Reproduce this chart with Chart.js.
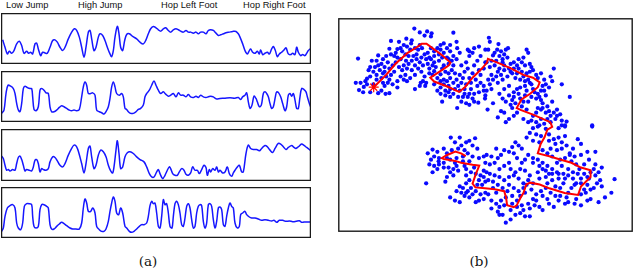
<!DOCTYPE html>
<html>
<head>
<meta charset="utf-8">
<script src="https://cdn.jsdelivr.net/npm/chart.js@4.4.0/dist/chart.umd.min.js"></script>
<style>
  body { margin: 0; width: 640px; height: 271px; background: #fff; position: relative; overflow: hidden; }
  canvas { position: absolute; }
  .label { position: absolute; top: 0; font: 9.3px/10px "Liberation Sans", Arial, sans-serif; color: #111; white-space: nowrap; }
  .caption { position: absolute; top: 253px; width: 40px; text-align: center; font: 13.5px/16px "DejaVu Serif", serif; color: #111; }
</style>
</head>
<body>
<div class="label" style="left:6px">Low Jump</div>
<div class="label" style="left:78px">High Jump</div>
<div class="label" style="left:161px">Hop Left Foot</div>
<div class="label" style="left:243px">Hop Right Foot</div>

<canvas id="signal-1" width="310" height="51" style="left:1px;top:13px"></canvas>
<canvas id="signal-2" width="310" height="51" style="left:1px;top:71px"></canvas>
<canvas id="signal-3" width="310" height="52" style="left:1px;top:129px"></canvas>
<canvas id="signal-4" width="310" height="51" style="left:1px;top:187px"></canvas>
<canvas id="embedding" width="307" height="226" style="left:332px;top:12px"></canvas>

<div class="caption" style="left:128px">(a)</div>
<div class="caption" style="left:459px">(b)</div>

<script>
// ---------------------------------------------------------------------------
// (a) four sensor signals over time: [time, value]
// time runs 3..933 across all four activities
// ---------------------------------------------------------------------------

const signal1 = [[8,72],[15,50],[22,30],[28,38],[35,32],[42,40],[50,60],[58,68],[65,55],[72,32],[80,38],[86,32],[92,35],[98,30],[105,60],[110,62],[115,45],[122,25],[128,35],[135,33],[142,32],[150,50],[158,70],[165,72],[172,65],[180,50],[188,40],[195,50],[205,75],[215,95],[223,105],[230,100],[238,80],[245,50],[252,20],[258,50],[265,95],[270,100],[275,75],[282,40],[288,50],[295,80],[300,90],[308,85],[315,70],[322,50],[330,30],[335,22],[340,40],[345,80],[352,112],[357,90],[362,50],[368,40],[374,70],[380,88],[388,90],[398,82],[410,75],[420,65],[430,60],[438,72],[445,90],[452,105],[460,112],[468,108],[475,102],[482,98],[490,105],[497,108],[505,100],[512,95],[520,102],[528,105],[535,102],[542,98],[550,95],[558,100],[565,95],[572,95],[580,92],[588,95],[595,90],[602,95],[610,95],[618,90],[625,100],[632,102],[640,100],[648,92],[655,85],[662,87],[670,90],[678,93],[688,95],[698,97],[708,97],[715,90],[720,80],[728,60],[735,40],[742,30],[748,40],[752,45],[758,35],[765,32],[772,38],[778,30],[782,42],[788,28],[795,32],[802,35],[808,30],[815,45],[820,52],[826,40],[832,22],[838,30],[845,35],[852,42],[858,48],[865,30],[872,28],[878,32],[885,28],[890,50],[895,35],[902,25],[908,28],[915,25],[920,32],[925,40],[930,45]];

const signal2 = [[5,26],[12,36],[18,86],[24,111],[32,108],[40,101],[45,86],[50,56],[55,36],[60,31],[65,56],[70,101],[75,108],[82,104],[90,101],[95,101],[98,76],[102,38],[108,34],[115,46],[120,96],[125,101],[132,96],[138,88],[145,86],[150,46],[155,31],[162,31],[170,36],[178,44],[185,49],[192,46],[200,41],[208,36],[215,34],[222,36],[230,34],[238,38],[245,76],[250,106],[255,121],[260,111],[265,86],[272,86],[278,88],[285,81],[290,36],[298,31],[305,28],[312,24],[318,31],[325,46],[330,71],[335,106],[340,121],[345,106],[350,86],[358,81],[365,86],[370,76],[375,41],[380,38],[385,31],[392,26],[400,26],[408,31],[415,38],[422,41],[430,51],[435,76],[440,86],[448,96],[455,111],[462,124],[468,111],[475,96],[482,86],[490,91],[497,84],[505,78],[512,81],[520,86],[528,76],[535,88],[542,81],[550,81],[558,76],[565,83],[572,76],[580,74],[588,78],[595,74],[602,81],[610,76],[618,74],[625,76],[632,78],[640,76],[648,70],[660,71],[675,72],[690,73],[705,72],[715,74],[722,68],[728,76],[735,81],[740,88],[745,61],[750,41],[756,51],[762,78],[768,71],[772,61],[778,46],[784,51],[790,86],[795,91],[800,86],[805,76],[810,56],[815,41],[820,46],[826,76],[830,91],[836,88],[842,76],[848,56],[855,34],[860,46],[865,81],[870,86],[875,78],[880,86],[885,66],[890,41],[895,41],[900,76],[905,101],[912,98],[918,91],[922,76],[928,56],[932,46]];

const signal3 = [[5,74],[10,67],[15,47],[20,32],[25,34],[30,30],[38,34],[45,32],[50,52],[55,70],[60,74],[65,64],[70,47],[75,30],[80,34],[88,32],[95,30],[100,42],[105,62],[110,64],[115,52],[120,27],[125,37],[130,34],[138,32],[145,37],[150,57],[158,72],[165,70],[172,60],[180,47],[188,42],[195,52],[205,77],[215,97],[222,107],[230,102],[237,82],[245,52],[252,24],[258,52],[265,97],[270,104],[275,72],[282,37],[288,47],[295,77],[302,92],[310,87],[318,72],[325,47],[332,30],[338,24],[342,42],[348,92],[352,120],[357,82],[362,37],[368,42],[375,72],[382,84],[390,87],[400,82],[410,72],[420,64],[432,57],[440,42],[448,22],[455,12],[462,12],[470,27],[475,34],[480,22],[488,7],[495,17],[502,32],[508,42],[512,37],[518,22],[525,17],[532,17],[538,27],[545,37],[552,32],[558,20],[565,17],[572,24],[578,42],[585,32],[592,32],[598,22],[605,34],[612,47],[618,40],[622,17],[628,34],[632,27],[638,37],[645,32],[650,42],[655,27],[660,32],[668,24],[675,27],[682,42],[688,22],[695,14],[700,24],[705,32],[712,42],[718,47],[725,27],[730,27],[738,82],[745,107],[752,97],[760,94],[770,94],[778,90],[785,97],[795,106],[802,102],[810,92],[818,85],[825,97],[835,112],[842,110],[850,102],[858,94],[865,100],[875,106],[882,100],[888,97],[895,102],[905,110],[912,106],[920,100],[928,94],[932,90]];

const signal4 = [[5,20],[10,30],[15,65],[22,90],[30,97],[38,100],[45,90],[50,45],[55,30],[62,25],[68,45],[73,95],[80,103],[88,103],[95,100],[98,65],[102,35],[108,30],[115,35],[120,85],[125,100],[132,100],[140,95],[145,90],[150,40],[155,27],[162,27],[170,35],[178,42],[185,47],[192,43],[200,37],[210,30],[218,27],[228,27],[238,27],[245,45],[250,90],[255,117],[260,105],[265,80],[272,80],[278,90],[285,75],[290,35],[298,25],[305,20],[312,20],[318,27],[325,50],[330,80],[335,105],[340,123],[345,110],[350,75],[356,70],[362,90],[368,75],[375,35],[380,30],[388,20],[395,17],[402,20],[410,27],[418,35],[425,40],[432,40],[440,45],[445,65],[450,97],[455,110],[460,103],[465,105],[470,75],[475,35],[480,30],[485,65],[490,115],[495,100],[500,103],[505,75],[510,35],[516,30],[520,65],[525,103],[530,110],[535,100],[540,75],[545,40],[550,35],[555,60],[560,95],[565,103],[570,90],[575,55],[580,30],[585,35],[590,75],[595,95],[600,100],[605,97],[610,50],[615,30],[620,45],[625,100],[630,103],[635,95],[640,55],[645,30],[650,50],[655,90],[660,93],[665,85],[670,40],[675,35],[680,65],[685,90],[690,105],[695,95],[700,90],[705,45],[712,30],[718,35],[722,70],[728,75],[735,80],[740,70],[748,63],[755,60],[765,60],[775,57],[785,53],[795,55],[805,53],[815,51],[822,53],[830,47],[838,53],[848,53],[858,50],[868,51],[878,49],[888,50],[898,52],[905,47],[912,48],[920,48],[932,48]];

const signals = [signal1, signal2, signal3, signal4];
const signalRanges = [152, 154, 155, 153]; // value range shown in each panel

// ---------------------------------------------------------------------------
// (b) 2-D embedding: all samples, plus the trajectory of one sequence
// ---------------------------------------------------------------------------

const embedding = [
  [238,33],[255,45],[278,42],[292,48],[290,58],[270,55],[213,65],[230,70],[205,85],[215,90],[228,80],[240,95],[250,100],[165,72],[190,75],[160,97],[185,98],[200,105],[210,115],[220,120],[235,120],[245,115],[230,135],[220,145],[205,150],[195,130],[185,125],[175,120],[165,115],[150,120],[140,130],[125,118],[120,135],[105,135],[100,155],[115,155],[125,150],[135,145],[145,155],[130,165],[145,170],[160,160],[170,150],[180,140],[190,155],[175,170],[165,180],[150,185],[135,190],[120,195],[100,185],[90,192],[85,200],[70,205],[55,205],[62,128],[95,165],[110,170],[90,210],[80,218],[65,228],[78,235],[100,235],[125,238],[135,230],[148,240],[160,238],[145,215],[155,205],[170,210],[185,220],[205,195],[215,200],[240,180],[225,190],[210,180],[195,185],[240,225],[255,215],[265,200],[275,205],[272,215],[258,205],[270,185],[285,175],[300,168],[295,180],[310,190],[320,178],[325,160],[330,150],[305,155],[300,140],[290,130],[280,110],[270,115],[260,125],[255,140],[250,160],[265,150],[280,145],[285,160],[290,95],[300,105],[310,95],[320,85],[330,80],[320,100],[330,110],[340,95],[350,85],[325,125],[340,125],[360,120],[350,105],[360,46],[370,75],[372,95],[380,110],[370,130],[360,150],[355,165],[345,175],[335,170],[350,190],[360,205],[340,200],[330,210],[320,220],[310,230],[320,240],[335,245],[350,250],[325,265],[345,235],[360,240],[380,230],[395,240],[405,250],[385,265],[372,285],[400,270],[410,275],[420,255],[438,268],[425,240],[415,225],[400,210],[385,205],[370,195],[380,180],[395,170],[405,160],[385,150],[400,140],[410,120],[420,110],[405,100],[425,95],[440,90],[460,100],[445,120],[435,135],[425,150],[440,165],[420,175],[430,195],[445,205],[455,215],[455,230],[440,235],[460,245],[410,190],[445,180],[455,160],[460,140],[410,105],
  [225,100],[262,95],[275,130],[240,150],[212,135],[200,165],[185,200],[160,195],[140,205],[110,210],[300,120],[315,135],[345,145],[330,195],[345,215],[375,215],[395,225],[390,190],[415,205],[435,215],[365,175],[320,200],[300,210],
  [195,95],[255,85],[245,130],[260,170],[230,165],[215,160],[180,110],[155,140],[140,175],[120,180],[285,125],[295,150],[315,115],[345,130],[355,135],[335,230],[365,225],[390,250],[410,240],[425,265],[375,250],[350,225],
  [471,62],[501,82],[497,100],[489,110],[509,105],[524,100],[531,95],[519,115],[529,125],[514,130],[504,120],[484,118],[469,100],[464,140],[474,155],[489,150],[504,160],[519,165],[509,180],[494,185],[479,180],[469,195],[474,210],[464,230],[479,225],[499,205],[514,195],[529,185],[539,170],[549,160],[559,175],[554,190],[569,195],[579,185],[589,175],[599,170],[604,155],[609,165],[619,180],[624,190],[634,175],[644,195],[589,100],[594,110],[574,140],[584,150],[599,145],[539,145],[549,140],[559,150],[564,130],[579,125],[674,160],[664,185],[669,200],[699,210],[724,250],[659,220],[639,215],[634,230],[624,240],[609,225],[599,205],[584,215],[569,220],[559,225],[549,235],[534,215],[519,225],[504,240],[514,255],[524,265],[534,245],[544,260],[539,275],[554,270],[569,255],[584,245],[589,230],[604,250],[619,255],[634,260],[649,245],[639,270],[654,280],[669,265],[659,295],[674,300],[684,290],[694,305],[679,320],[699,325],[714,328],[709,340],[664,310],[649,300],[634,290],[619,300],[609,310],[604,325],[619,330],[634,320],[644,335],[594,330],[579,320],[559,300],[549,310],[534,320],[519,300],[509,295],[499,315],[524,330],[544,285],[574,280],[589,290],[794,340],[459,255],[467,290],[484,270],[649,210],[644,230],[474,75],[514,140],
  [479,135],[494,135],[519,150],[534,160],[544,175],[564,160],[574,170],[584,200],[594,195],[604,210],[614,235],[629,250],[594,265],[579,265],[564,240],[549,250],[624,285],[639,285],[654,320],[664,330],[684,310],[699,340],[629,340],[499,170],[484,195],
  [352,379],[380,379],[428,381],[365,394],[385,404],[400,394],[410,389],[420,404],[435,414],[295,417],[280,429],[310,424],[330,414],[340,429],[355,419],[375,414],[395,419],[405,429],[390,439],[370,444],[350,449],[330,459],[315,444],[300,439],[290,449],[285,464],[300,469],[315,464],[310,479],[295,489],[330,474],[345,474],[360,479],[375,484],[350,489],[340,504],[335,519],[360,499],[370,469],[390,454],[410,454],[420,439],[440,444],[455,439],[460,459],[455,484],[445,499],[440,514],[460,519],[450,529],[430,549],[445,559],[460,554],[440,579],[455,574],[410,514],[400,524],[390,539],[380,534],[370,549],[385,554],[395,564],[410,569],[420,559],[405,549],[350,569],[365,579],[380,584],[430,584],[275,524],[400,499],[415,489],[400,479],[425,474],
  [609,349],[624,344],[649,351],[689,349],[709,344],[794,344],[599,364],[619,369],[634,374],[659,369],[674,384],[689,379],[709,374],[589,379],[609,389],[629,394],[659,389],[679,399],[699,394],[714,404],[699,414],[684,419],[664,414],[654,429],[669,439],[639,419],[554,394],[564,404],[574,414],[494,414],[544,409],[749,384],[759,399],[734,414],[724,434],[739,439],[759,434],[779,424],[804,424],[784,449],[804,464],[824,474],[799,479],[814,489],[804,499],[809,524],[799,539],[779,529],[769,544],[774,554],[759,559],[744,574],[739,589],[719,584],[714,569],[719,554],[729,539],[744,524],[759,509],[769,494],[754,479],[744,464],[729,454],[709,444],[694,449],[684,459],[699,469],[719,479],[734,489],[719,499],[704,494],[684,489],[669,479],[654,469],[639,459],[624,449],[609,444],[594,434],[584,449],[574,459],[559,444],[549,429],[534,424],[519,419],[509,434],[499,444],[489,459],[479,439],[474,464],[464,434],[504,479],[519,469],[534,459],[539,479],[554,489],[569,479],[584,484],[599,499],[594,514],[579,524],[564,509],[549,499],[534,504],[519,514],[504,504],[489,499],[474,494],[464,489],[469,514],[484,519],[499,529],[514,539],[529,549],[524,569],[509,579],[494,589],[479,579],[469,559],[479,604],[499,614],[514,624],[524,649],[504,599],[539,609],[554,624],[569,619],[584,629],[599,629],[574,594],[594,589],[609,574],[619,579],[629,599],[639,609],[619,559],[634,549],[649,539],[664,554],[679,564],[689,579],[674,599],[659,589],[639,564],[604,544],[584,554],[569,564],[559,579],[544,564],[589,529],[609,524],[629,509],[649,504],[669,514],[689,509],[704,524],[694,539],[679,534],[654,524],[624,489],[639,479],[659,494],[864,511],[854,554],[834,569],[814,584],[779,579],[759,594],[789,574],[824,534],[724,429],[769,464],[789,489],[784,509],[819,514],
  [609,459],[629,469],[649,484],[669,494],[689,494],[709,509],[734,509],[749,494],[739,529],[759,524],[779,504],[789,544],[534,529],[549,539],[564,549],[579,539],[544,589],[559,599],[579,609],[599,604],[614,594],[654,574],[694,564],[709,589],[494,554],[484,539],[519,594],[504,624],[539,639],[314,454],[340,444],[365,459],[395,469],[430,494],[435,529],[415,539],[400,554],[455,504],
];

const trajectory = [
  [111,219],[150,180],[180,144],[216,111],[240,96],[261,81],[276,81],[300,99],[324,117],[351,141],[345,150],[324,165],[288,189],[300,201],[339,216],[378,234],[396,219],[420,189],[450,159],[465,141],[468,129],[498,141],[540,159],[579,180],[609,189],[630,204],[624,219],[600,240],[573,258],[558,285],[570,291],[609,306],[663,330],[669,345],[654,354],[645,378],[633,399],[624,429],[660,438],[699,450],[729,459],[759,474],[789,483],[789,504],[774,519],[759,534],[750,561],[708,555],[660,540],[630,528],[600,522],[588,528],[579,555],[570,570],[558,594],[549,600],[528,594],[525,570],[519,549],[489,543],[459,540],[429,537],[420,525],[429,498],[441,468],[420,465],[384,459],[366,453],[330,447],[324,444],[339,435],[366,423],[384,429],[399,438],
];

// ---------------------------------------------------------------------------
// Box around each plot area
// ---------------------------------------------------------------------------

const framePlugin = {
  id: "frame",
  afterDraw(chart, args, opts) {
    const { ctx, chartArea: a } = chart;
    ctx.save();
    ctx.strokeStyle = opts.color || "#1a1a1a";
    ctx.lineWidth = opts.width || 1.2;
    ctx.strokeRect(a.left + 0.6, a.top + 0.6, a.right - a.left - 1.2, a.bottom - a.top - 1.2);
    ctx.restore();
  },
};

const toPoints = pairs => pairs.map(([x, y]) => ({ x, y }));

// ---------------------------------------------------------------------------
// (a) signal panels
// ---------------------------------------------------------------------------

signals.forEach((signal, i) => {
  new Chart(document.getElementById(`signal-${i + 1}`), {
    type: "line",
    data: {
      datasets: [{
        data: toPoints(signal),
        borderColor: "#1616ff",
        borderWidth: 1.5,
        pointRadius: 0,
        tension: 0.35,
      }],
    },
    options: {
      responsive: false,
      animation: false,
      events: [],
      layout: { padding: 0 },
      scales: {
        x: { type: "linear", display: false, min: 3, max: 933 },
        y: { display: false, min: 0, max: signalRanges[i] },
      },
      plugins: { legend: { display: false }, tooltip: { enabled: false }, frame: { width: 1.3 } },
    },
    plugins: [framePlugin],
  });
});

// ---------------------------------------------------------------------------
// (b) embedding scatter with trajectory
// ---------------------------------------------------------------------------

new Chart(document.getElementById("embedding"), {
  type: "scatter",
  data: {
    datasets: [
      {
        data: toPoints(trajectory),
        showLine: true,
        borderColor: "#ff0000",
        borderWidth: 2,
        pointRadius: 0,
        order: 1,
      },
      {
        data: toPoints(trajectory.slice(0, 1)),
        pointStyle: "star",
        pointRadius: 5,
        borderColor: "#ff0000",
        borderWidth: 1.2,
        order: 0,
      },
      {
        data: toPoints(embedding),
        pointRadius: 2.1,
        pointBorderWidth: 0,
        backgroundColor: "#0a0aff",
        borderColor: "#0a0aff",
        order: 2,
      },
    ],
  },
  options: {
    responsive: false,
    animation: false,
    events: [],
    layout: { padding: 0 },
    scales: {
      x: { display: false, min: 0, max: 921 },
      y: { display: false, min: 0, max: 678, reverse: true },
    },
    plugins: { legend: { display: false }, tooltip: { enabled: false }, frame: { width: 1.4 } },
  },
  plugins: [framePlugin],
});
</script>
</body>
</html>
